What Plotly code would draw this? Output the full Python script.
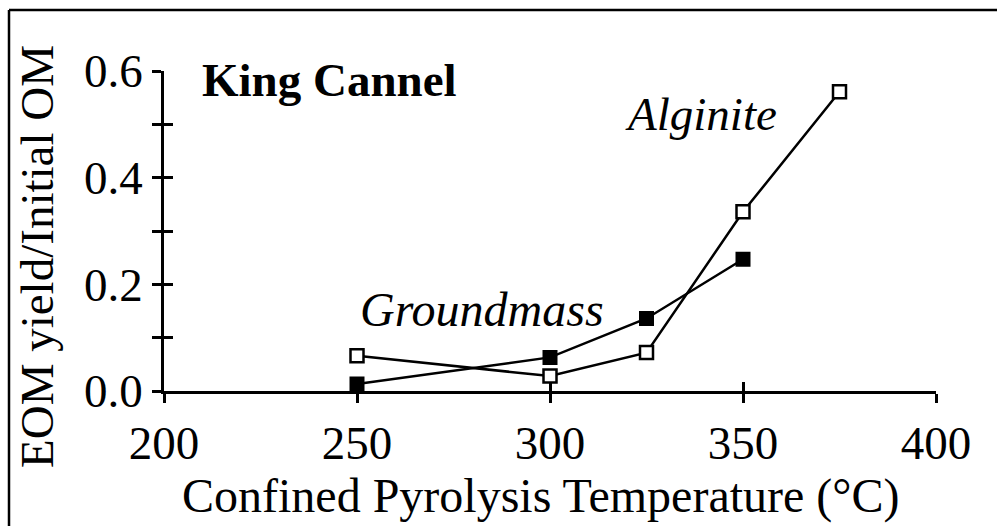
import plotly.graph_objects as go

temps_alginite = [250, 300, 325, 350, 375]
yield_alginite = [0.066, 0.028, 0.072, 0.336, 0.561]
temps_ground = [250, 300, 325, 350]
yield_ground = [0.013, 0.063, 0.136, 0.247]

x_ticks = [200, 250, 300, 350, 400]
y_ticks = [0.0, 0.2, 0.4, 0.6]
y_tick_text = ["0.0", "0.2", "0.4", "0.6"]

W, H = 997, 526
L, R, T, B = 164, 61, 71, 135
pw, ph = W - L - R, H - T - B

def px(xp):
    return (xp - L) / pw

def py(yp):
    return (H - B - yp) / ph

FONT = "Liberation Serif"

fig = go.Figure()
fig.add_trace(go.Scatter(
    x=temps_ground, y=yield_ground, mode="lines+markers",
    line=dict(color="black", width=2.5),
    marker=dict(symbol="square", size=13, color="black", line=dict(color="black", width=2)),
    cliponaxis=False, showlegend=False, name="Groundmass"))
fig.add_trace(go.Scatter(
    x=temps_alginite, y=yield_alginite, mode="lines+markers",
    line=dict(color="black", width=2.5),
    marker=dict(symbol="square", size=13, color="white", line=dict(color="black", width=2.5)),
    cliponaxis=False, showlegend=False, name="Alginite"))

axis_common = dict(showgrid=False, zeroline=False, showline=True, linecolor="black",
                   linewidth=2.5, tickcolor="black", tickwidth=2.5, ticklen=9,
                   tickfont=dict(family=FONT, size=47, color="black"))

fig.update_layout(
    width=W, height=H,
    margin=dict(l=L, r=R, t=T, b=B, pad=0),
    paper_bgcolor="white", plot_bgcolor="white",
    xaxis=dict(range=[200, 400], tickvals=x_ticks, ticks="outside", **axis_common),
    yaxis=dict(range=[0, 0.6], tickvals=y_ticks, ticktext=y_tick_text, ticks="outside",
               minor=dict(dtick=0.1, ticks="outside", ticklen=9, tickwidth=2.5, tickcolor="black"),
               **axis_common),
    xaxis2=dict(range=[200, 400], overlaying="x", tickvals=x_ticks, ticks="inside",
                showticklabels=False, showgrid=False, zeroline=False, showline=False,
                tickcolor="black", tickwidth=2.5, ticklen=9, side="bottom", anchor="y"),
    yaxis2=dict(range=[0, 0.6], overlaying="y", dtick=0.1, tick0=0, ticks="inside",
                showticklabels=False, showgrid=False, zeroline=False, showline=False,
                tickcolor="black", tickwidth=2.5, ticklen=9, side="left", anchor="x"),
    font=dict(family=FONT, color="black"),
)
fig.add_trace(go.Scatter(x=[None], y=[None], xaxis="x2", yaxis="y2", showlegend=False,
                         hoverinfo="skip"))

fig.add_annotation(text="King Cannel", x=px(200), y=py(80), xref="paper", yref="paper",
                   xanchor="left", yanchor="middle", showarrow=False,
                   font=dict(family=FONT, size=47, color="black", weight="bold"))
fig.add_annotation(text="<i>Alginite</i>", x=px(701), y=py(114), xref="paper", yref="paper",
                   xanchor="center", yanchor="middle", showarrow=False,
                   font=dict(family=FONT, size=47, color="black"))
fig.add_annotation(text="<i>Groundmass</i>", x=px(482), y=py(309), xref="paper", yref="paper",
                   xanchor="center", yanchor="middle", showarrow=False,
                   font=dict(family=FONT, size=48, color="black"))
fig.add_annotation(text="Confined Pyrolysis Temperature (°C)", x=px(541), y=py(496),
                   xref="paper", yref="paper", xanchor="center", yanchor="middle",
                   showarrow=False, font=dict(family=FONT, size=48, color="black"))
fig.add_annotation(text="EOM yield/Initial OM", x=px(37), y=py(257), xref="paper", yref="paper",
                   xanchor="center", yanchor="middle", textangle=-90, showarrow=False,
                   font=dict(family=FONT, size=47, color="black"))

fig.add_shape(type="line", xref="paper", yref="paper", x0=px(9), x1=px(9), y0=py(10), y1=py(530),
              line=dict(color="black", width=2.5))
fig.add_shape(type="line", xref="paper", yref="paper", x0=px(9), x1=px(1000), y0=py(10), y1=py(10),
              line=dict(color="black", width=2.5))

fig.write_html("out.html")
